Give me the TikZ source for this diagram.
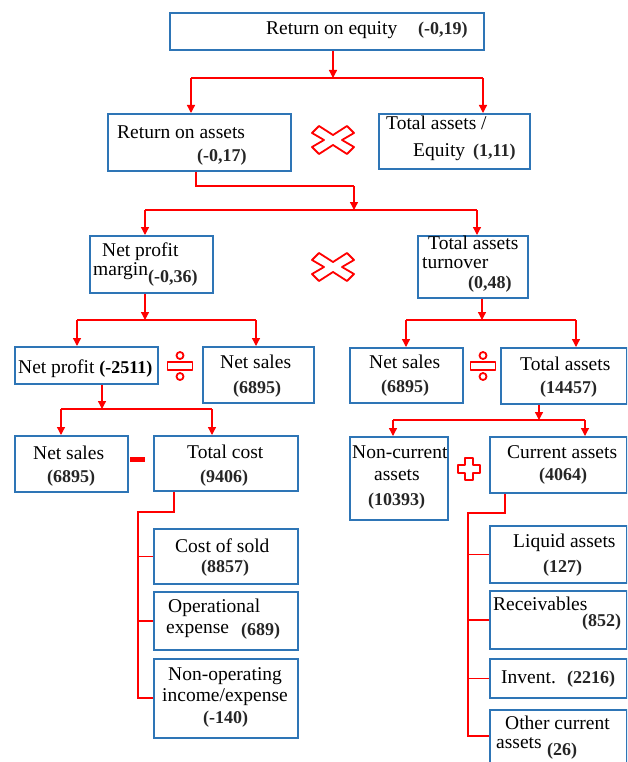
\documentclass[tikz,border=0pt]{standalone}
\usepackage{fontspec}
\setmainfont{Liberation Serif}
\usetikzlibrary{arrows.meta}
\definecolor{boxblue}{RGB}{46,117,182}
\definecolor{lred}{RGB}{255,0,0}
\newcommand\bxx[5]{\node[box,anchor=north west,minimum width={#4pt-#2pt},minimum height={#5pt-#3pt}] (#1) at (#2,#3) {};}
\tikzset{
  box/.style={draw=boxblue,line width=1.8pt,inner sep=0pt},
  txt/.style={anchor=base west,inner sep=0pt,font=\fontsize{19.5}{21}\selectfont},
  num/.style={anchor=base west,inner sep=0pt,font=\fontsize{18}{20}\selectfont\bfseries,text=black!85},
  conn/.style={draw=lred,line width=1.3pt},
  arr/.style={conn,-{Triangle[width=8pt,length=8pt]}},
  opline/.style={draw=lred,line width=1.8pt,fill=white,line join=round},
  xop/.pic={\draw[opline] (0,-5) -- (14,-14) -- (21,-7) -- (9,0) -- (21,7) -- (14,14) -- (0,5) -- (-14,14) -- (-21,7) -- (-9,0) -- (-21,-7) -- (-14,-14) -- cycle;},
  divop/.pic={\draw[opline] (-12.5,-4) rectangle (12.5,4);
              \draw[opline] (0,-10.5) circle[radius=3.5];
              \draw[opline] (0,10.5) circle[radius=3.5];},
  plusop/.pic={\draw[opline] (-4,-11) -- (4,-11) -- (4,-4) -- (11,-4) -- (11,4) -- (4,4) -- (4,11) -- (-4,11) -- (-4,4) -- (-11,4) -- (-11,-4) -- (-4,-4) -- cycle;},
}
\begin{document}
\begin{tikzpicture}[x=1pt,y=-1pt]
\clip (0,0) rectangle (627,762);
\fill[white] (0,0) rectangle (627,762);
% boxes
\bxx{roe}{169}{12}{483}{49}
\bxx{roa}{107}{113}{290}{170}
\bxx{tae}{378}{113}{529}{168}
\bxx{npm}{89}{235}{212}{292}
\bxx{tat}{417}{235}{527}{297}
\bxx{np}{14}{346}{157}{383}
\bxx{nsa}{202}{346}{313}{402}
\bxx{nsb}{349}{347}{462}{402}
\bxx{ta}{500}{347}{626}{403}
\bxx{nsc}{14}{435}{127}{491}
\bxx{tc}{153}{435}{297}{490}
\bxx{nca}{349}{436}{447}{519}
\bxx{ca}{489}{436}{626}{492}
\bxx{cos}{153}{528}{297}{583}
\bxx{ope}{153}{591}{297}{649}
\bxx{nop}{153}{658}{297}{737}
\bxx{liq}{489}{525}{626}{582}
\bxx{rec}{489}{590}{626}{648}
\bxx{inv}{489}{658}{626}{697}
\bxx{oth}{489}{709}{626}{775}
% texts
\node[txt] (t1) at (266,35) {Return on equity};
\node[num] (n1) at (418,35) {(-0,19)};
\node[txt] (t2) at (117,139) {Return on assets};
\node[num] (n2) at (197,161) {(-0,17)};
\node[txt] (t3a) at (386,130) {Total assets /};
\node[txt] (t3b) at (413,157) {Equity};
\node[num] (n3) at (473,157) {(1,11)};
\node[txt] (t4a) at (102,256) {Net profit};
\node[txt] (t4b) at (93,275) {margin};
\node[num] (n4) at (148,282) {(-0,36)};
\node[txt] (t5a) at (428,249) {Total assets};
\node[txt] (t5b) at (422,268) {turnover};
\node[num] (n5) at (468,288) {(0,48)};
\node[txt] (t6) at (18,373) {Net profit \textbf{\fontsize{18}{20}\selectfont (-2511)}};
\node[txt] (t7) at (220,368) {Net sales};
\node[num] (n7) at (233,393) {(6895)};
\node[txt] (t8) at (369,368) {Net sales};
\node[num] (n8) at (381,392) {(6895)};
\node[txt] (t9) at (520,370) {Total assets};
\node[num] (n9) at (540,393) {(14457)};
\node[txt] (t10) at (33,459) {Net sales};
\node[num] (n10) at (47,482) {(6895)};
\node[txt] (t11) at (187,458) {Total cost};
\node[num] (n11) at (200,482) {(9406)};
\node[txt] (t12a) at (352,458) {Non-current};
\node[txt] (t12b) at (374,480) {assets};
\node[num] (n12) at (368,505) {(10393)};
\node[txt] (t13) at (507,458) {Current assets};
\node[num] (n13) at (539,480) {(4064)};
\node[txt] (t14) at (175,552) {Cost of sold};
\node[num] (n14) at (201,572) {(8857)};
\node[txt] (t15a) at (168,612) {Operational};
\node[txt] (t15b) at (166,633) {expense};
\node[num] (n15) at (241,635) {(689)};
\node[txt] (t16a) at (168,680) {Non-operating};
\node[txt] (t16b) at (162,701) {income/expense};
\node[num] (n16) at (203,723) {(-140)};
\node[txt] (t17) at (513,547) {Liquid assets};
\node[num] (n17) at (543,572) {(127)};
\node[txt] (t18) at (493,610) {Receivables};
\node[num] (n18) at (582,626) {(852)};
\node[txt] (t19) at (501,683) {Invent.};
\node[num] (n19) at (567,683) {(2216)};
\node[txt] (t20a) at (505,729) {Other current};
\node[txt] (t20b) at (496,748) {assets};
\node[num] (n20) at (547,755) {(26)};
% junction coordinates
\coordinate (j1) at (333,78); \coordinate (j1l) at (191,78); \coordinate (j1r) at (483,78);
\coordinate (k2) at (196,186); \coordinate (k2r) at (354,186);
\coordinate (j2) at (354,210); \coordinate (j2l) at (145,210); \coordinate (j2r) at (477,210);
\coordinate (j3) at (145,320); \coordinate (j3l) at (77,320); \coordinate (j3r) at (256,320);
\coordinate (j4) at (482,320); \coordinate (j4l) at (406,320); \coordinate (j4r) at (576,320);
\coordinate (j5) at (102,409); \coordinate (j5l) at (61,409); \coordinate (j5r) at (212,409);
\coordinate (j6) at (539,420); \coordinate (j6l) at (393,420); \coordinate (j6r) at (585,420);
\coordinate (k7) at (174,512); \coordinate (k7l) at (138,512);
\coordinate (k8) at (505,513); \coordinate (k8l) at (468,513);
% connectors
\draw[arr] (roe.south -| j1) -- (j1);
\draw[conn] (j1l) -- (j1r);
\draw[arr] (j1l) -- (roa.north -| j1l);
\draw[arr] (j1r) -- (tae.north -| j1r);
\draw[conn] (roa.south -| k2) -- (k2) -- (k2r);
\draw[arr] (k2r) -- (j2);
\draw[conn] (j2l) -- (j2r);
\draw[arr] (j2l) -- (npm.north -| j2l);
\draw[arr] (j2r) -- (tat.north -| j2r);
\draw[arr] (npm.south -| j3) -- (j3);
\draw[conn] (j3l) -- (j3r);
\draw[arr] (j3l) -- (np.north -| j3l);
\draw[arr] (j3r) -- (nsa.north -| j3r);
\draw[arr] (tat.south -| j4) -- (j4);
\draw[conn] (j4l) -- (j4r);
\draw[arr] (j4l) -- (nsb.north -| j4l);
\draw[arr] (j4r) -- (ta.north -| j4r);
\draw[arr] (np.south -| j5) -- (j5);
\draw[conn] (j5l) -- (j5r);
\draw[arr] (j5l) -- (nsc.north -| j5l);
\draw[arr] (j5r) -- (tc.north -| j5r);
\draw[arr] (ta.south -| j6) -- (j6);
\draw[conn] (j6l) -- (j6r);
\draw[arr] (j6l) -- (nca.north -| j6l);
\draw[arr] (j6r) -- (ca.north -| j6r);
\draw[conn] (tc.south -| k7) -- (k7) -- (k7l) -- (k7l |- 0,698) -- (nop.west |- 0,698);
\draw[conn] (k7l |- cos.west) -- (cos.west);
\draw[conn] (k7l |- ope.west) -- (ope.west);
\draw[conn] (ca.south -| k8) -- (k8) -- (k8l) -- (k8l |- 0,736) -- (oth.west |- 0,736);
\draw[conn] (k8l |- liq.west) -- (liq.west);
\draw[conn] (k8l |- rec.west) -- (rec.west);
\draw[conn] (k8l |- inv.west) -- (inv.west);
% operators
\pic at (333,140) {xop};
\pic at (333,267) {xop};
\pic at (180,366) {divop};
\pic at (483,366) {divop};
\pic at (469,469) {plusop};
\fill[lred] (130,457) rectangle (145,461.5);
\end{tikzpicture}
\end{document}
